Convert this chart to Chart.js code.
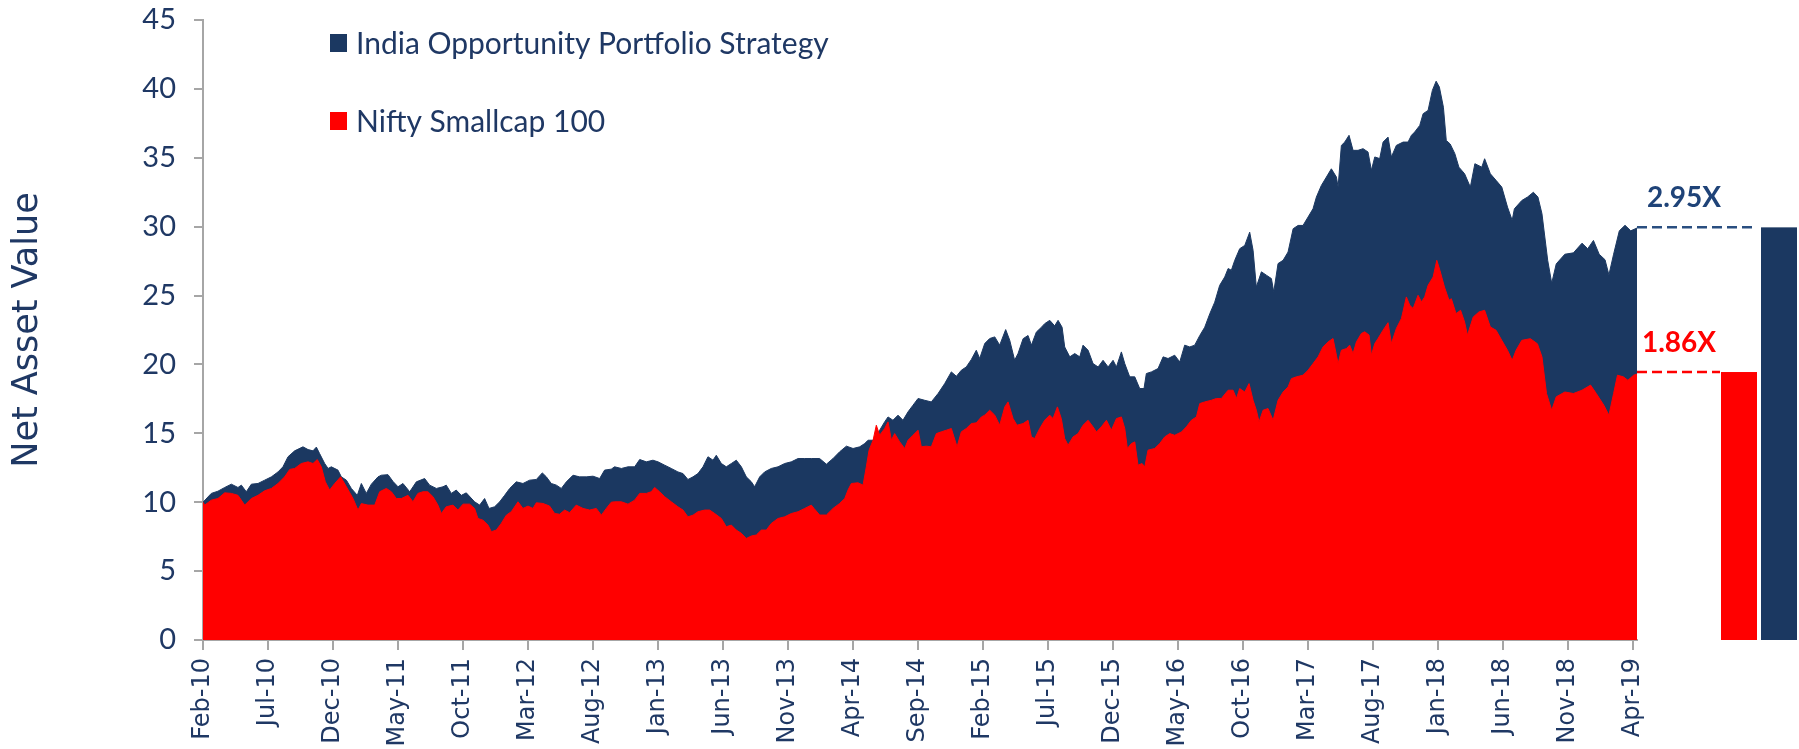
<!DOCTYPE html>
<html><head><meta charset="utf-8">
<script src="https://cdn.jsdelivr.net/npm/chart.js@4.4.0/dist/chart.umd.min.js"></script>
<style>html,body{margin:0;padding:0;background:#fff;}#wrap{position:relative;width:1799px;height:749px;}</style>
</head><body><div id="wrap"><canvas id="c" width="1799" height="749"></canvas></div>
<script>
const xTickLabels = ['Feb-10','Jul-10','Dec-10','May-11','Oct-11','Mar-12','Aug-12','Jan-13','Jun-13','Nov-13','Apr-14','Sep-14','Feb-15','Jul-15','Dec-15','May-16','Oct-16','Mar-17','Aug-17','Jan-18','Jun-18','Nov-18','Apr-19'];
const seriesNames = ['India Opportunity Portfolio Strategy', 'Nifty Smallcap 100'];
const seriesColors = ['#1b3861', '#ff0000'];
// months since Feb-2010
const navyMonths = [0,0.64,1.15,1.67,2.18,2.69,2.95,3.33,3.72,4.23,4.74,5.26,5.77,6.15,6.54,7.05,7.69,8.08,8.46,8.72,8.97,9.36,9.62,9.87,10.38,10.64,11.03,11.41,11.87,12.18,12.56,12.95,13.46,13.72,14.23,14.62,15.0,15.38,15.9,16.41,17.05,17.43,17.95,18.46,18.71,19.1,19.48,19.87,20.25,20.89,21.28,21.66,22.0,22.43,22.82,23.2,23.59,24.1,24.61,25.12,25.64,26.1,26.41,26.79,27.18,27.56,27.95,28.46,28.97,29.48,30.0,30.51,30.89,31.4,31.66,32.18,32.69,33.2,33.59,34.1,34.61,35.0,35.51,36.02,36.53,36.92,37.3,37.69,38.07,38.46,38.84,39.23,39.48,39.87,40.25,40.64,41.02,41.41,41.79,42.18,42.43,42.82,43.2,43.71,44.23,44.74,45.25,45.77,46.28,46.79,47.43,47.95,48.46,48.97,49.49,50.0,50.51,50.9,51.15,51.54,52.05,52.43,52.69,53.07,53.46,53.84,54.23,54.61,55.0,55.51,56.02,56.54,57.05,57.56,57.95,58.33,58.71,59.1,59.48,59.74,60.13,60.51,60.9,61.28,61.74,62.05,62.43,62.69,63.08,63.46,63.72,64.1,64.49,64.74,65.13,65.51,65.77,66.08,66.28,66.67,67.05,67.44,67.69,68.08,68.46,68.85,69.23,69.62,70.0,70.26,70.64,70.9,71.28,71.67,72.05,72.38,72.56,72.95,73.46,73.85,74.23,74.74,75.13,75.51,75.9,76.28,76.67,77.05,77.44,77.82,78.2,78.59,78.85,79.1,79.36,79.74,80.13,80.51,80.77,81.02,81.41,81.79,82.18,82.36,82.69,83.08,83.46,83.85,84.23,84.61,85.0,85.38,85.64,86.02,86.41,86.79,87.18,87.31,87.56,87.82,88.15,88.46,88.84,89.23,89.61,89.87,90.13,90.51,90.77,91.15,91.41,91.79,92.31,92.69,92.95,93.2,93.59,93.85,94.23,94.56,94.85,95.1,95.41,95.63,95.93,96.29,96.6,97.04,97.48,97.83,98.36,98.58,99.02,99.46,99.9,100.34,100.7,100.87,101.44,101.88,102.33,102.68,102.99,103.43,103.74,104.09,104.75,105.41,106.07,106.51,106.95,107.39,107.84,108.14,108.5,108.94,109.38,109.82,110.3];
const navyValues = [10.0,10.64,10.8,11.07,11.31,11.07,11.24,10.76,11.31,11.36,11.6,11.84,12.2,12.57,13.3,13.73,14.02,13.82,13.73,14.0,13.53,12.81,12.45,12.57,12.33,11.84,11.6,11.0,10.5,11.36,10.64,11.31,11.84,11.96,12.0,11.5,11.12,11.36,10.76,11.48,11.72,11.24,11.0,11.12,11.24,10.64,10.88,10.5,10.68,10.03,9.79,10.27,9.55,9.67,10.03,10.5,11.0,11.48,11.36,11.6,11.65,12.13,11.84,11.36,11.24,11.0,11.48,11.96,11.84,11.84,11.89,11.72,12.33,12.4,12.57,12.45,12.57,12.57,13.1,12.93,13.05,12.93,12.69,12.45,12.2,12.08,11.65,11.84,12.08,12.57,13.3,13.05,13.41,12.81,12.57,12.81,13.05,12.57,11.84,11.48,11.12,11.84,12.2,12.45,12.57,12.81,12.93,13.17,13.17,13.17,13.17,12.76,13.17,13.66,14.07,13.9,14.02,14.26,14.5,14.5,15.23,15.83,16.19,15.95,16.32,15.95,16.56,17.04,17.53,17.4,17.28,17.89,18.61,19.46,19.14,19.58,19.82,20.36,21.03,20.43,21.52,21.88,22.0,21.4,22.53,21.76,20.31,20.79,21.87,22.1,21.4,22.35,22.7,22.96,23.2,22.8,23.2,22.7,21.27,20.55,20.79,20.55,21.4,21.03,20.06,19.82,20.3,19.82,20.3,19.82,20.91,20.06,19.1,19.1,18.25,18.25,19.34,19.46,19.7,20.55,20.43,20.67,20.18,21.4,21.27,21.4,22.1,22.7,23.68,24.52,25.74,26.35,26.96,26.84,27.56,28.4,28.64,29.6,28.28,25.62,26.72,26.48,26.23,25.26,27.32,27.56,28.16,29.85,30.09,30.09,30.7,31.3,32.15,32.99,33.6,34.2,33.6,32.88,35.9,36.14,36.63,35.54,35.54,35.66,35.42,34.09,35.06,34.94,36.14,36.5,35.06,35.9,36.14,36.14,36.63,36.87,37.35,38.2,38.44,39.89,40.56,40.13,38.67,36.26,36.0,35.3,34.32,33.84,32.87,34.57,34.32,34.93,33.84,33.36,32.87,31.42,30.46,31.3,31.9,32.15,32.5,32.15,30.94,27.56,25.9,27.3,28.0,28.1,28.8,28.4,29.0,28.0,27.6,26.5,28.0,29.7,30.1,29.7,29.9];
const redMonths = [0,0.13,0.64,1.15,1.67,2.18,2.69,3.21,3.72,4.23,4.74,5.26,5.77,6.28,6.67,7.05,7.56,8.08,8.46,8.79,9.1,9.41,9.74,10.13,10.59,11.03,11.54,11.92,12.18,12.69,13.21,13.59,14.1,14.49,14.87,15.26,15.77,16.15,16.53,16.92,17.3,17.69,18.07,18.33,18.71,19.23,19.61,20.0,20.51,20.89,21.15,21.53,21.92,22.18,22.56,22.94,23.33,23.71,24.23,24.61,25.0,25.38,25.64,26.15,26.66,27.05,27.43,27.82,28.2,28.71,29.23,29.74,30.25,30.64,31.02,31.4,31.66,32.18,32.69,33.2,33.59,34.1,34.48,34.74,35.12,35.51,36.02,36.53,36.92,37.3,37.69,38.07,38.59,38.97,39.36,39.87,40.25,40.64,41.02,41.41,41.79,42.18,42.56,42.95,43.33,43.71,44.23,44.74,45.25,45.77,46.28,46.79,47.0,47.43,47.95,48.46,48.97,49.36,49.61,49.87,50.38,50.77,51.02,51.23,51.54,51.79,52.05,52.43,52.69,52.95,53.2,53.59,53.97,54.23,54.61,55.0,55.25,55.64,56.02,56.41,56.79,57.18,57.56,58.0,58.33,58.71,59.1,59.48,59.87,60.13,60.51,60.9,61.28,61.67,61.92,62.31,62.61,63.08,63.46,63.72,63.97,64.36,64.74,65.13,65.38,65.72,66.02,66.28,66.54,66.92,67.31,67.69,68.08,68.46,68.72,69.1,69.49,69.87,70.26,70.64,70.9,71.1,71.41,71.67,71.92,72.23,72.44,72.69,73.2,73.59,73.97,74.36,74.74,75.26,75.64,76.02,76.41,76.67,77.05,77.56,77.95,78.33,78.85,79.23,79.49,79.74,80.13,80.46,80.77,81.02,81.23,81.54,81.92,82.31,82.69,83.08,83.46,83.72,84.1,84.61,85.0,85.38,85.77,86.15,86.54,86.92,87.18,87.31,87.56,87.95,88.2,88.46,88.72,89.1,89.36,89.69,89.87,90.13,90.38,90.77,91.15,91.41,91.79,92.18,92.56,92.82,93.08,93.46,93.72,93.97,94.23,94.62,94.9,95.14,95.49,95.84,96.02,96.38,96.73,97.04,97.26,97.7,98.14,98.58,99.02,99.46,99.9,100.34,100.7,101.0,101.44,102.1,102.64,102.99,103.34,103.74,104.09,104.75,105.41,106.07,106.73,107.17,107.75,108.14,108.5,108.8,109.25,109.6,110.04,110.3];
const redValues = [10.0,9.79,10.15,10.27,10.68,10.64,10.5,9.79,10.27,10.5,10.83,11.0,11.36,11.84,12.38,12.45,12.81,12.93,12.81,13.1,12.57,11.48,10.88,11.36,11.84,11.12,10.27,9.43,9.9,9.79,9.79,10.76,11.0,10.76,10.27,10.27,10.5,10.03,10.64,10.76,10.76,10.4,9.79,9.18,9.67,9.79,9.43,9.86,9.86,9.55,8.82,8.7,8.34,7.86,7.98,8.46,9.06,9.31,10.03,9.55,9.72,9.55,9.96,9.91,9.72,9.18,9.13,9.43,9.24,9.79,9.55,9.43,9.55,9.06,9.55,10.0,10.03,10.03,9.86,10.15,10.64,10.64,10.76,11.07,10.76,10.4,10.03,9.67,9.43,8.94,9.06,9.31,9.43,9.43,9.18,8.82,8.22,8.34,7.98,7.74,7.37,7.55,7.62,7.98,7.98,8.46,8.82,8.94,9.18,9.31,9.55,9.79,9.55,9.07,9.07,9.55,9.91,10.27,10.88,11.36,11.41,11.24,12.56,13.77,14.5,15.59,14.86,15.35,15.83,14.5,14.98,14.38,13.9,14.5,14.86,15.23,14.02,14.07,14.02,14.98,15.11,15.23,15.35,14.02,15.11,15.35,15.71,15.76,16.19,16.32,16.68,16.32,15.59,16.92,17.28,16.07,15.59,15.71,15.95,14.74,14.62,15.35,15.95,16.32,16.07,16.92,16.07,14.62,14.14,14.74,14.98,15.59,15.95,15.47,15.1,15.47,15.95,15.23,16.07,16.19,15.35,13.9,14.26,14.38,12.69,12.81,12.57,13.78,13.9,14.26,14.74,14.98,14.86,15.1,15.47,15.95,16.19,17.16,17.28,17.4,17.53,17.53,18.13,18.13,17.53,18.25,18.0,18.61,17.4,16.68,15.83,16.68,16.8,15.95,17.4,18.0,18.37,18.97,19.1,19.22,19.58,20.06,20.55,21.27,21.64,21.88,20.67,20.06,21.03,21.15,21.4,20.79,21.64,22.25,22.37,22.13,20.67,21.52,21.88,22.49,23.03,21.52,22.61,23.34,24.9,24.3,24.06,25.02,24.54,24.9,25.74,26.35,27.56,26.83,25.62,24.66,24.77,23.69,23.93,23.08,22.12,23.44,23.81,23.93,22.72,22.48,21.75,21.03,20.3,21.03,21.75,21.87,21.5,20.55,17.89,16.68,17.65,18.0,17.89,18.13,18.5,17.89,17.04,16.32,17.89,19.22,19.1,18.85,19.22,19.3];
const endValues = [29.95, 19.45];
const endLabels = ['2.95X', '1.86X'];

const TEXT = '#1f3864';
const AXIS = '#a6a6a6';

const pts = (xs, ys) => xs.map((x, i) => ({x: x, y: ys[i]}));

const overlay = {
  id: 'overlay',
  afterDraw(chart) {
    const {ctx, chartArea: a, scales: {y}} = chart;
    ctx.save();
    // legend
    const lx = a.left + 127;
    const rows = [43, 121];
    ctx.font = '30px Lato';
    ctx.textBaseline = 'middle';
    ctx.textAlign = 'left';
    seriesNames.forEach((n, i) => {
      ctx.fillStyle = seriesColors[i];
      ctx.fillRect(lx, rows[i] - 9, 17, 18);
      ctx.fillStyle = TEXT;
      ctx.fillText(n, lx + 26, rows[i] + 1);
    });
    // end markers
    const barX = [a.right + 124, a.right + 84];
    const lineEnd = [a.right + 120, a.right + 83];
    const labelColors = ['#1f4378', '#ff0000'];
    const labelX = [a.right + 47, a.right + 42];
    endValues.forEach((v, i) => {
      const py = y.getPixelForValue(v);
      const base = y.getPixelForValue(0);
      ctx.fillStyle = seriesColors[i];
      ctx.fillRect(barX[i], py, 36, base - py);
      ctx.strokeStyle = i === 0 ? '#2a4f80' : '#ff0000';
      ctx.lineWidth = 2.5;
      ctx.setLineDash([10, 5]);
      ctx.beginPath();
      ctx.moveTo(a.right, py);
      ctx.lineTo(lineEnd[i], py);
      ctx.stroke();
      ctx.setLineDash([]);
      ctx.font = 'bold 28px Lato';
      ctx.textAlign = 'center';
      ctx.fillStyle = labelColors[i];
      ctx.fillText(endLabels[i], labelX[i], py - 29);
    });
    ctx.restore();
  }
};

new Chart(document.getElementById('c'), {
  type: 'line',
  data: {
    datasets: [
      {label: seriesNames[1], data: pts(redMonths, redValues), fill: 'origin', backgroundColor: seriesColors[1], borderColor: seriesColors[1], borderWidth: 1, pointRadius: 0, tension: 0},
      {label: seriesNames[0], data: pts(navyMonths, navyValues), fill: 'origin', backgroundColor: seriesColors[0], borderColor: seriesColors[0], borderWidth: 1, pointRadius: 0, tension: 0}
    ]
  },
  options: {
    responsive: false, animation: false, devicePixelRatio: 1,
    layout: {padding: {top: 20, right: 162, bottom: 0, left: 0}},
    plugins: {legend: {display: false}, tooltip: {enabled: false}},
    scales: {
      x: {
        type: 'linear', min: 0, max: 110.3,
        afterBuildTicks: s => { s.ticks = xTickLabels.map((_, i) => ({value: i * 5})); },
        afterFit: s => { s.height = 109; },
        ticks: {autoSkip: false, maxRotation: 90, minRotation: 90, padding: 8, color: TEXT,
          font: {family: 'DejaVu Sans', size: 24},
          callback: v => xTickLabels[Math.round(v / 5)]},
        grid: {drawOnChartArea: false, tickLength: 10, color: AXIS, lineWidth: 2},
        border: {color: AXIS, width: 2}
      },
      y: {
        min: 0, max: 45,
        afterFit: s => { s.width = 203; s.paddingTop = 0; s.paddingBottom = 0; },
        ticks: {stepSize: 5, padding: 18, color: TEXT, font: {family: 'Lato', size: 29}},
        grid: {drawOnChartArea: false, tickLength: 9, color: AXIS, lineWidth: 2},
        border: {color: AXIS, width: 2},
        title: {display: true, text: 'Net Asset Value', color: TEXT, font: {family: 'DejaVu Sans', size: 35}, padding: {top: 7, bottom: 0}}
      }
    }
  },
  plugins: [overlay]
});
</script></body></html>
